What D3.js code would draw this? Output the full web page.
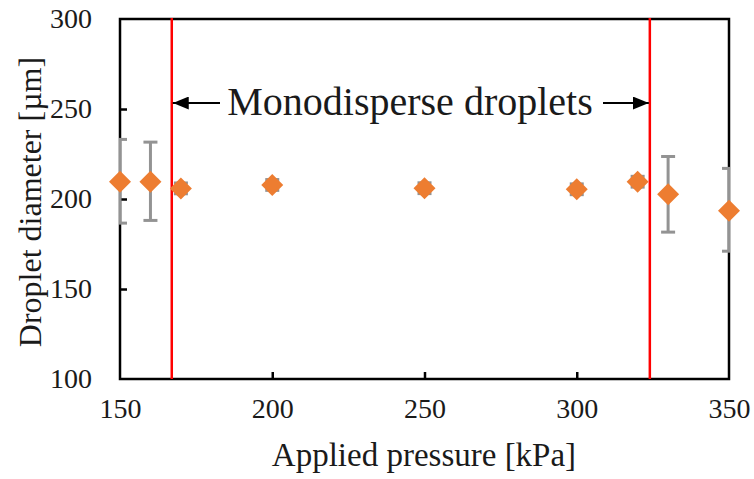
<!DOCTYPE html>
<html>
<head>
<meta charset="utf-8">
<script src="https://cdn.jsdelivr.net/npm/d3@7"></script>
<style>
  html, body { margin: 0; padding: 0; background: #fff; }
  svg { display: block; }
  text { font-family: "Liberation Serif", "Times New Roman", serif; fill: #1a1a1a; }
</style>
</head>
<body>
<svg id="chart" width="754" height="479"></svg>
<script>
// ---- data ----
const pressure = [150, 160, 170, 200, 250, 300, 320, 330, 350];
const diameter = [209.6, 209.6, 205.9, 207.8, 206.0, 205.4, 209.6, 202.6, 193.5];
const errLow   = [23, 21.5, 3, 3, 3, 3, 3, 21, 22.5];
const errHigh  = [23.5, 22, 3, 3, 3, 3, 3, 21, 23.5];
const boundaries = [167, 324];
const xTicks = [150, 200, 250, 300, 350];
const yTicks = [100, 150, 200, 250, 300];
const xTitle = "Applied pressure [kPa]";
const yTitle = "Droplet diameter [µm]";
const annotation = "Monodisperse droplets";

// ---- layout ----
const svg = d3.select("#chart");
const pL = 120, pR = 729, pT = 19, pB = 379;
const x = d3.scaleLinear().domain([150, 350]).range([pL, pR]);
const y = d3.scaleLinear().domain([100, 300]).range([pB, pT]);

const data = pressure.map((p, i) => ({p, d: diameter[i], lo: diameter[i] - errLow[i], hi: diameter[i] + errHigh[i]}));

const defs = svg.append("defs");
defs.append("clipPath").attr("id", "clip")
  .append("rect").attr("x", pL - 1).attr("y", pT).attr("width", pR - pL + 2).attr("height", pB - pT);

// frame
svg.append("rect").attr("x", pL).attr("y", pT).attr("width", pR - pL).attr("height", pB - pT)
  .attr("fill", "none").attr("stroke", "#000").attr("stroke-width", 2.5);

// axes (ticks inward)
const xAxis = svg.append("g").attr("transform", `translate(0,${pB})`)
  .call(d3.axisBottom(x).tickValues(xTicks).tickSize(-7).tickPadding(19).tickFormat(d3.format("d")));
const yAxis = svg.append("g").attr("transform", `translate(${pL},0)`)
  .call(d3.axisLeft(y).tickValues(yTicks).tickSize(-7).tickPadding(28).tickFormat(d3.format("d")));
[xAxis, yAxis].forEach(g => {
  g.select(".domain").remove();
  g.selectAll(".tick line").attr("stroke", "#000").attr("stroke-width", 2.5);
  g.selectAll(".tick text").style("font-family", "'Liberation Serif', serif").style("font-size", "28px").attr("fill", "#1a1a1a");
});
xAxis.selectAll(".tick").filter(d => d === 150 || d === 350).select("line").remove();
yAxis.selectAll(".tick").filter(d => d === 100 || d === 300).select("line").remove();

// error bars
const eb = svg.append("g").attr("clip-path", "url(#clip)").attr("stroke", "#939393").attr("stroke-width", 3);
data.forEach(e => {
  eb.append("line").attr("x1", x(e.p)).attr("x2", x(e.p)).attr("y1", y(e.lo)).attr("y2", y(e.hi));
  eb.append("line").attr("x1", x(e.p) - 7).attr("x2", x(e.p) + 7).attr("y1", y(e.lo)).attr("y2", y(e.lo));
  eb.append("line").attr("x1", x(e.p) - 7).attr("x2", x(e.p) + 7).attr("y1", y(e.hi)).attr("y2", y(e.hi));
});

// boundary lines
svg.append("g").selectAll("line").data(boundaries).join("line")
  .attr("x1", d => x(d)).attr("x2", d => x(d)).attr("y1", pT - 1).attr("y2", pB)
  .attr("stroke", "#ff0000").attr("stroke-width", 2.5);

// markers
svg.append("g").selectAll("path").data(data).join("path")
  .attr("transform", e => `translate(${x(e.p)},${y(e.d)})`)
  .attr("d", "M0,-11L11,0L0,11L-11,0Z")
  .attr("fill", "#ED7D31");

// annotation
const ay = 103;
defs.append("marker").attr("id", "ah").attr("viewBox", "0 0 10 10").attr("refX", 10).attr("refY", 5)
  .attr("markerWidth", 16).attr("markerHeight", 13).attr("orient", "auto").attr("markerUnits", "userSpaceOnUse")
  .attr("preserveAspectRatio", "none")
  .append("path").attr("d", "M0,0L10,5L0,10Z").attr("fill", "#000");
svg.append("line").attr("x1", 220).attr("x2", x(boundaries[0]) + 1).attr("y1", ay).attr("y2", ay)
  .attr("stroke", "#000").attr("stroke-width", 2).attr("marker-end", "url(#ah)");
svg.append("line").attr("x1", 603).attr("x2", x(boundaries[1]) - 1).attr("y1", ay).attr("y2", ay)
  .attr("stroke", "#000").attr("stroke-width", 2).attr("marker-end", "url(#ah)");
svg.append("text").attr("x", 410).attr("y", 115).attr("text-anchor", "middle")
  .style("font-size", "40px").text(annotation);

// titles
svg.append("text").attr("x", 424).attr("y", 466).attr("text-anchor", "middle")
  .style("font-size", "33px").text(xTitle);
svg.append("text").attr("transform", `translate(41,202) rotate(-90)`).attr("text-anchor", "middle")
  .style("font-size", "32px").text(yTitle);
</script>
</body>
</html>
